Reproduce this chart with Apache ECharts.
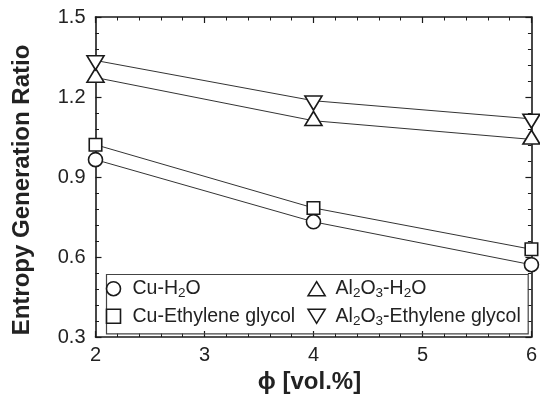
<!DOCTYPE html>
<html>
<head>
<meta charset="utf-8">
<script src="https://cdn.jsdelivr.net/npm/echarts@6/dist/echarts.min.js"></script>
<style>
  html, body { margin: 0; padding: 0; background: #fff; }
  #chart { width: 540px; height: 399px; }
</style>
</head>
<body>
<div id="chart"></div>
<script>
// Volume fraction of nanoparticles (x) and entropy generation ratio (y)
const phi = [2, 4, 6];
const cuWater = [0.965, 0.732, 0.571];
const cuGlycol = [1.021, 0.784, 0.629];
const aluminaWater = [1.273, 1.111, 1.041];
const aluminaGlycol = [1.337, 1.186, 1.118];

const seriesNames = ['Cu-H2O', 'Cu-Ethylene glycol', 'Al2O3-H2O', 'Al2O3-Ethylene glycol'];
// Legend labels with subscripts (rich text)
const legendLabels = {
  'Cu-H2O': '{t|Cu-H}{s|2}{t|O}',
  'Cu-Ethylene glycol': '{t|Cu-Ethylene glycol}',
  'Al2O3-H2O': '{t|Al}{s|2}{t|O}{s|3}{t|-H}{s|2}{t|O}',
  'Al2O3-Ethylene glycol': '{t|Al}{s|2}{t|O}{s|3}{t|-Ethylene glycol}'
};

const xRange = { min: 2, max: 6, interval: 1 };
const yRange = { min: 0.3, max: 1.5, interval: 0.3 };

const FONT = 'Liberation Sans, Arial, Helvetica, sans-serif';
const INK = '#1a1a1a';
const DOWN_TRI = 'path://M0,0L17,0L8.5,14Z';
const UP_TRI = 'path://M8.5,0L17,14L0,14Z';
const SQUARE = 'path://M0,0L12,0L12,12L0,12Z';

function pairs(ys) { return phi.map((x, i) => [x, ys[i]]); }

function frameAxis(extra) {
  return Object.assign({
    type: 'value',
    axisLine: { show: true, onZero: false, lineStyle: { color: INK, width: 1.6 } },
    axisTick: { show: true, inside: true, length: 6, lineStyle: { color: INK, width: 1.2 } },
    minorTick: { show: true, splitNumber: 5, length: 3.5, lineStyle: { color: INK, width: 1 } },
    splitLine: { show: false },
    minorSplitLine: { show: false }
  }, extra);
}

const labelStyle = { fontFamily: FONT, fontSize: 20, color: '#222' };

function lineSeries(name, ys, symbol, size, offset) {
  return {
    name: name,
    type: 'line',
    data: pairs(ys),
    symbol: symbol,
    symbolSize: size,
    symbolOffset: offset || [0, 0],
    showAllSymbol: true,
    lineStyle: { color: '#333', width: 1 },
    itemStyle: { color: '#fff', borderColor: INK, borderWidth: 1.6 },
    emphasis: { disabled: true },
    z: 3
  };
}

const legendText = {
  fontFamily: FONT,
  fontSize: 19.5,
  color: '#222',
  lineHeight: 24,
  padding: [0, 0, 0, 4],
  rich: {
    t: { fontFamily: FONT, fontSize: 19.5, color: '#222' },
    s: { fontFamily: FONT, fontSize: 13.5, color: '#222', padding: [10, 0, 0, 0] }
  }
};

function legendBlock(left, items) {
  return {
    orient: 'vertical',
    left: left,
    top: 276.7,
    padding: 0,
    itemGap: 3.6,
    itemWidth: 20,
    itemHeight: 14,
    selectedMode: false,
    itemStyle: { color: '#fff', borderColor: INK, borderWidth: 1.6 },
    textStyle: legendText,
    formatter: (name) => legendLabels[name],
    data: items
  };
}

const chart = echarts.init(document.getElementById('chart'), null, { renderer: 'canvas' });

chart.setOption({
  animation: false,
  backgroundColor: '#fff',
  grid: { left: 95.5, right: 8, top: 17, bottom: 59.3, containLabel: false },
  xAxis: [
    frameAxis({
      position: 'bottom',
      min: xRange.min, max: xRange.max, interval: xRange.interval,
      axisLabel: Object.assign({ margin: 8 }, labelStyle),
      name: 'ϕ [vol.%]',
      nameLocation: 'middle',
      nameGap: 33,
      nameTextStyle: { fontFamily: FONT, fontSize: 24, fontWeight: 'bold', color: '#222', padding: [0, 8, 0, 0] }
    }),
    frameAxis({
      position: 'top',
      min: xRange.min, max: xRange.max, interval: xRange.interval,
      axisLabel: { show: false }
    })
  ],
  yAxis: [
    frameAxis({
      position: 'left',
      min: yRange.min, max: yRange.max, interval: yRange.interval,
      axisLabel: Object.assign({ margin: 10, formatter: (v) => v.toFixed(1) }, labelStyle),
      name: 'Entropy Generation Ratio',
      nameLocation: 'middle',
      nameGap: 61,
      nameTextStyle: { fontFamily: FONT, fontSize: 24, fontWeight: 'bold', color: '#222', padding: [0, 26, 0, 0] }
    }),
    frameAxis({
      position: 'right',
      min: yRange.min, max: yRange.max, interval: yRange.interval,
      axisLabel: { show: false }
    })
  ],
  legend: [
    legendBlock(105.7, [
      { name: seriesNames[0], icon: 'circle' },
      { name: seriesNames[1], icon: SQUARE }
    ]),
    legendBlock(307.3, [
      { name: seriesNames[2], icon: UP_TRI },
      { name: seriesNames[3], icon: DOWN_TRI }
    ])
  ],
  graphic: [
    {
      type: 'rect',
      left: 104,
      top: 272,
      shape: { width: 421.7, height: 59.3 },
      style: { fill: 'none', stroke: '#444', lineWidth: 1.2 },
      z: 1
    }
  ],
  series: [
    lineSeries(seriesNames[0], cuWater, 'circle', 14),
    lineSeries(seriesNames[1], cuGlycol, 'rect', 12.5),
    lineSeries(seriesNames[2], aluminaWater, 'triangle', [17, 14], [0, -2.3]),
    lineSeries(seriesNames[3], aluminaGlycol, DOWN_TRI, [17, 14], [0, 2.3])
  ]
});
</script>
</body>
</html>
